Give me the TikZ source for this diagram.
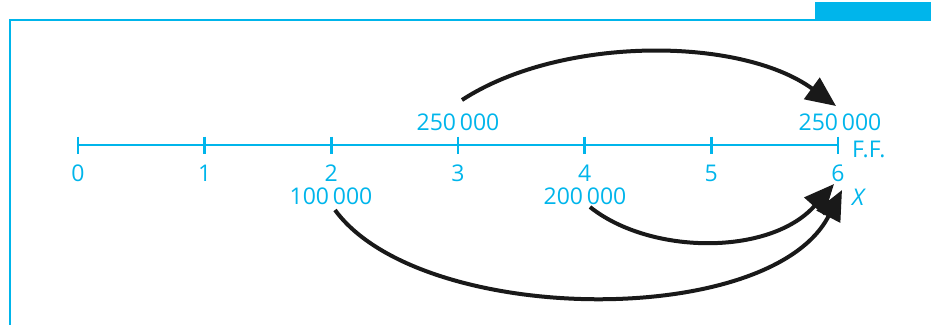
\documentclass[tikz,border=0pt]{standalone}
\usepackage{fontspec}
\setmainfont{Open Sans}
\usetikzlibrary{arrows.meta}
\definecolor{axcyan}{HTML}{00B5EB}
\begin{document}
\begin{tikzpicture}[x=1pt,y=-1pt,
  lbl/.style={text=axcyan,font=\fontsize{23}{26}\selectfont,inner sep=0pt,anchor=center},
  axisline/.style={draw=axcyan,line width=2.8pt},
  flow/.style={draw=black!90,line width=4pt,-{Triangle[length=30pt,width=26pt]}}]
\useasboundingbox (0,0) rectangle (931,325);
% frame
\draw[draw=axcyan,line width=1.6pt] (931,20) -- (10,20) -- (10,325);
\fill[axcyan] (815,2) rectangle (931,20);
% axis
\foreach \i/\x in {0/78,1/204.7,2/331.3,3/458,4/584.7,5/711.3,6/838}{
  \coordinate (t\i) at (\x,145);
  \draw[axisline] (\x,136.5) -- (\x,153.5);
  \node[lbl] (n\i) at (\x,173) {\i};
}
\draw[axisline] (t0) -- (t6);
\node[lbl,anchor=west] (ff) at (852,149) {F.F.};
\node[lbl,anchor=west] (xx) at (852,197) {\itshape X};
\node[lbl] (a3) at (458,122) {250\,000};
\node[lbl] (a6) at (840,122) {250\,000};
\node[lbl] (b2) at (331,196) {100\,000};
\node[lbl] (b4) at (585,196) {200\,000};
% flows
\coordinate (s1) at (462,100);
\coordinate (e1) at (836,106);
\coordinate (s2) at (590,207);
\coordinate (e2) at (834,184);
\coordinate (s3) at (335,210);
\coordinate (e3) at (842,190);
\draw[flow] (s1) .. controls (560,36) and (740,36) .. (e1);
\draw[flow] (s2) .. controls (650,255) and (770,256) .. (e2);
\draw[flow] (s3) .. controls (420,326) and (770,330) .. (e3);
\end{tikzpicture}
\end{document}
